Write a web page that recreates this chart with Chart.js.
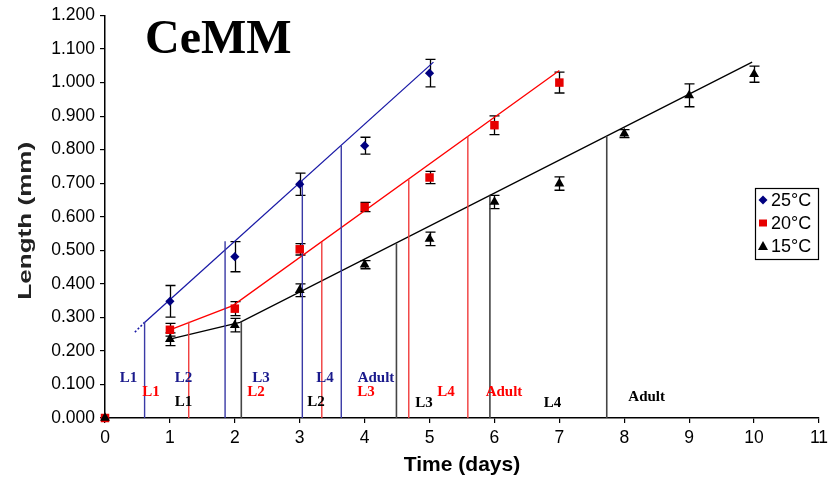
<!DOCTYPE html>
<html>
<head>
<meta charset="utf-8">
<script src="https://cdn.jsdelivr.net/npm/chart.js@4.4.1/dist/chart.umd.min.js"></script>
<style>
  html, body { margin: 0; padding: 0; background: #ffffff; }
  #wrap { width: 838px; height: 486px; }
</style>
</head>
<body>
<div id="wrap"><canvas id="c" width="838" height="486"></canvas></div>
<script>
// ---- data ----
const days25 = [0, 1, 2, 3, 4, 5];
const len25  = [0.000, 0.348, 0.481, 0.697, 0.812, 1.028];
const err25  = [0, 0.047, 0.045, 0.033, 0.025, 0.041];

const days20 = [0, 1, 2, 3, 4, 5, 6, 7];
const len20  = [0.000, 0.263, 0.326, 0.503, 0.629, 0.717, 0.873, 1.000];
const err20  = [0, 0.019, 0.021, 0.017, 0.014, 0.018, 0.028, 0.031];

const days15 = [0, 1, 2, 3, 4, 5, 6, 7, 8, 9, 10];
const len15  = [0.000, 0.235, 0.277, 0.381, 0.457, 0.534, 0.644, 0.699, 0.848, 0.962, 1.025];
const err15  = [0, 0.019, 0.020, 0.019, 0.012, 0.020, 0.020, 0.020, 0.012, 0.034, 0.024];

// growth (trend) lines
const trend25DotX = [0.46, 0.61];
const trend25DotY = [0.256, 0.285];
const trend25X = [0.61, 5.06];
const trend25Y = [0.285, 1.061];
const trend20X = [1.00, 1.97, 7.00];
const trend20Y = [0.263, 0.335, 1.036];
const trend15X = [1.00, 2.08, 9.97];
const trend15Y = [0.235, 0.285, 1.061];

// moult markers (vertical lines)
const molt25X   = [0.61, 1.85, 3.04, 3.64];
const molt25Top = [0.285, 0.527, 0.706, 0.812];
const molt20X   = [1.29, 3.34, 4.68, 5.59];
const molt20Top = [0.287, 0.525, 0.712, 0.839];
const molt15X   = [2.10, 4.49, 5.93, 7.73];
const molt15Top = [0.287, 0.521, 0.663, 0.840];

// stage labels
const stages25 = ['L1', 'L2', 'L3', 'L4', 'Adult'];
const stages20 = ['L1', 'L2', 'L3', 'L4', 'Adult'];
const stages15 = ['L1', 'L2', 'L3', 'L4', 'Adult'];
const stageX25 = [0.362, 1.209, 2.403, 3.389, 4.175];
const stageY25 = [0.119, 0.119, 0.119, 0.119, 0.119];
const stageX20 = [0.709, 2.326, 4.021, 5.253, 6.147];
const stageY20 = [0.078, 0.078, 0.078, 0.078, 0.078];
const stageX15 = [1.209, 3.251, 4.915, 6.894, 8.345];
const stageY15 = [0.047, 0.047, 0.044, 0.044, 0.062];

const seriesNames = ['25°C', '20°C', '15°C'];
const xTicks = [0, 1, 2, 3, 4, 5, 6, 7, 8, 9, 10, 11];

// ---- styles ----
const C25 = '#000080', C20 = '#e60000', C15 = '#000000';

function pts(xs, ys) { return xs.map((x, i) => ({ x: x, y: ys[i] })); }
function vlines(xs, tops) {
  const out = [];
  xs.forEach((x, i) => { out.push({ x: x, y: 0 }); out.push({ x: x, y: tops[i] }); out.push({ x: x, y: null }); });
  return out;
}
function lineDs(data, color, width, extra) {
  return Object.assign({
    type: 'line', data: data, showLine: true, borderColor: color, borderWidth: width,
    pointRadius: 0, pointHoverRadius: 0, fill: false, tension: 0, spanGaps: false, order: 10, clip: false
  }, extra || {});
}

const pointSets = [
  { label: seriesNames[0], days: days25, len: len25, err: err25, color: C25, style: 'rectRot', r: 4.6, order: 3 },
  { label: seriesNames[1], days: days20, len: len20, err: err20, color: C20, style: 'rect', r: 6, order: 2 },
  { label: seriesNames[2], days: days15, len: len15, err: err15, color: C15, style: 'triangle', r: 5.7, order: 1 }
];

const datasets = [
  lineDs(vlines(molt25X, molt25Top), '#3a3aa6', 1.4),
  lineDs(vlines(molt20X, molt20Top), '#f03c3c', 1.4),
  lineDs(vlines(molt15X, molt15Top), '#454545', 1.6),
  lineDs(pts(trend25DotX, trend25DotY), '#1a1aa6', 1.6, { borderDash: [2, 2] }),
  lineDs(pts(trend25X, trend25Y), '#1a1aa6', 1.3),
  lineDs(pts(trend20X, trend20Y), '#ff0000', 1.3),
  lineDs(pts(trend15X, trend15Y), '#000000', 1.3)
];
pointSets.forEach(s => {
  datasets.push({
    label: s.label, data: pts(s.days, s.len), showLine: false,
    pointStyle: s.style, pointRadius: s.r, pointHoverRadius: s.r,
    backgroundColor: s.color, borderColor: s.color, borderWidth: 0,
    order: s.order, clip: false
  });
});

const errorBars = {
  id: 'errorBars',
  beforeDatasetsDraw(chart) {
    const { ctx, scales: { x, y } } = chart;
    ctx.save();
    ctx.strokeStyle = '#000';
    ctx.lineWidth = 1.3;
    pointSets.forEach(s => {
      s.days.forEach((d, i) => {
        const e = s.err[i];
        if (!e) return;
        const px = Math.round(x.getPixelForValue(d)) + 0.5;
        const t = y.getPixelForValue(s.len[i] + e);
        const b = y.getPixelForValue(s.len[i] - e);
        ctx.beginPath();
        ctx.moveTo(px, t); ctx.lineTo(px, b);
        ctx.moveTo(px - 5, t); ctx.lineTo(px + 5, t);
        ctx.moveTo(px - 5, b); ctx.lineTo(px + 5, b);
        ctx.stroke();
      });
    });
    ctx.restore();
  }
};

const overlay = {
  id: 'overlay',
  afterDatasetsDraw(chart) {
    const { ctx, scales: { x, y } } = chart;
    ctx.save();
    // stage labels
    ctx.font = 'bold 15px "Liberation Serif", "Times New Roman", serif';
    ctx.textAlign = 'center';
    ctx.textBaseline = 'middle';
    const groups = [
      [stages25, stageX25, stageY25, '#1a1a8c'],
      [stages20, stageX20, stageY20, '#ff0000'],
      [stages15, stageX15, stageY15, '#000000']
    ];
    groups.forEach(([names, xs, ys, col]) => {
      ctx.fillStyle = col;
      names.forEach((n, i) => ctx.fillText(n, x.getPixelForValue(xs[i]), y.getPixelForValue(ys[i])));
    });
    // title
    ctx.font = 'bold 48px "Liberation Serif", "Times New Roman", serif';
    ctx.textAlign = 'left';
    ctx.textBaseline = 'alphabetic';
    ctx.fillStyle = '#000';
    ctx.fillText('CeMM', 145, 53);
    // y axis title (stretched along its length like the reference)
    ctx.save();
    ctx.translate(31, (y.top + y.bottom) / 2 + 4);
    ctx.rotate(-Math.PI / 2);
    ctx.scale(1.45, 1);
    ctx.font = 'bold 18px "Liberation Sans", Arial, sans-serif';
    ctx.textAlign = 'center';
    ctx.textBaseline = 'alphabetic';
    ctx.fillStyle = '#222';
    ctx.fillText('Length (mm)', 0, 0);
    ctx.restore();
    // legend
    const lx = 755.5, ly = 188.5, lw = 63, lh = 71;
    ctx.fillStyle = '#fff';
    ctx.fillRect(lx, ly, lw, lh);
    ctx.strokeStyle = '#000';
    ctx.lineWidth = 1.2;
    ctx.strokeRect(lx, ly, lw, lh);
    ctx.font = '18px "Liberation Sans", Arial, sans-serif';
    ctx.textBaseline = 'middle';
    ctx.textAlign = 'left';
    const rowsY = [200, 223, 246];
    pointSets.forEach((s, i) => {
      const cx = 763, cy = rowsY[i];
      ctx.fillStyle = s.color;
      ctx.beginPath();
      if (s.style === 'rectRot') {
        ctx.moveTo(cx, cy - 4.5); ctx.lineTo(cx + 4.5, cy); ctx.lineTo(cx, cy + 4.5); ctx.lineTo(cx - 4.5, cy);
      } else if (s.style === 'rect') {
        ctx.rect(cx - 4, cy - 3.5, 8, 7);
      } else {
        ctx.moveTo(cx, cy - 5); ctx.lineTo(cx + 5, cy + 4); ctx.lineTo(cx - 5, cy + 4);
      }
      ctx.closePath();
      ctx.fill();
      ctx.fillStyle = '#000';
      ctx.fillText(s.label, 771, cy + 1);
    });
    ctx.restore();
  }
};

new Chart(document.getElementById('c'), {
  type: 'scatter',
  data: { datasets: datasets },
  options: {
    responsive: false,
    animation: false,
    devicePixelRatio: 1,
    layout: { padding: { top: 13, right: 19, left: 0, bottom: 0 } },
    plugins: { legend: { display: false }, tooltip: { enabled: false } },
    scales: {
      x: {
        type: 'linear', min: 0, max: 11,
        afterBuildTicks: s => { s.ticks = xTicks.map(v => ({ value: v })); },
        ticks: { color: '#000', font: { size: 17.5, family: '"Liberation Sans", Arial, sans-serif' }, padding: 5, callback: v => String(v) },
        grid: { display: true, drawOnChartArea: false, drawTicks: true, tickLength: 5, color: '#000', lineWidth: 1.2 },
        border: { display: true, color: '#000', width: 1.5 },
        title: { display: true, text: 'Time (days)', color: '#000',
                 font: { size: 21, weight: 'bold', family: '"Liberation Sans", Arial, sans-serif' },
                 padding: { top: 0, bottom: 8 } },
        afterFit: s => { s.height = 68; }
      },
      y: {
        type: 'linear', min: 0, max: 1.2,
        ticks: { stepSize: 0.1, color: '#000', font: { size: 17.5, family: '"Liberation Sans", Arial, sans-serif' }, padding: 5,
                 callback: v => Number(v).toFixed(3) },
        grid: { display: true, drawOnChartArea: false, drawTicks: true, tickLength: 5, color: '#000', lineWidth: 1.2 },
        border: { display: true, color: '#000', width: 1.5 },
        title: { display: false },
        afterFit: s => { s.width = 105; }
      }
    }
  },
  plugins: [errorBars, overlay]
});
</script>
</body>
</html>
